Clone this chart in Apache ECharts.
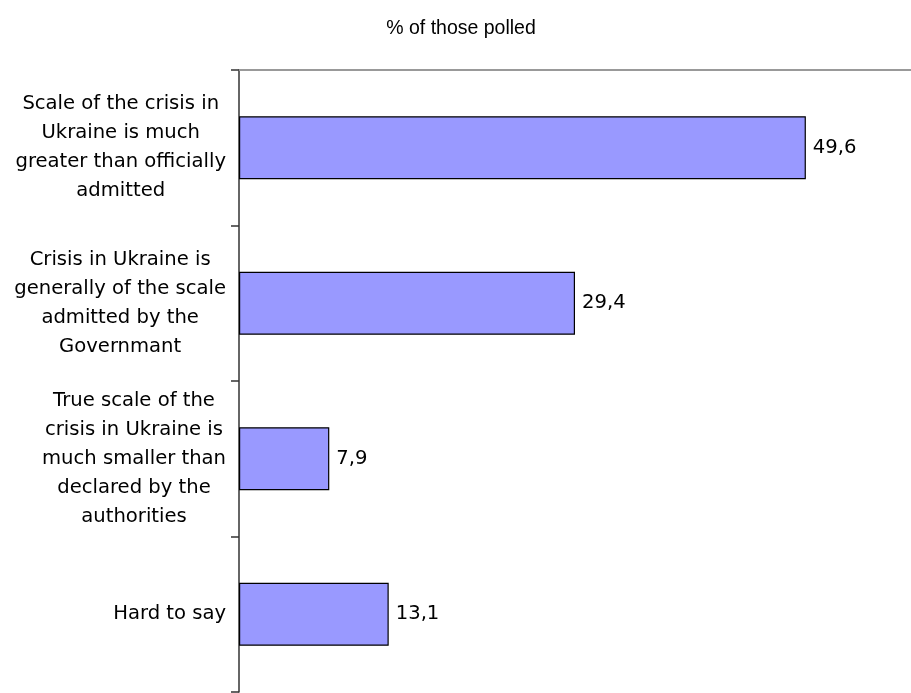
<!DOCTYPE html>
<html><head><meta charset="utf-8">
<script src="https://cdn.jsdelivr.net/npm/echarts@6/dist/echarts.min.js"></script>
<style>html,body{margin:0;padding:0;background:#fff}#c{width:911px;height:693px}</style>
</head><body><div id="c"></div>
<script>
const categories = [
  "Scale of the crisis in\nUkraine is much\ngreater than officially\nadmitted",
  "Crisis in Ukraine is\ngenerally of the scale\nadmitted by the\nGovernmant",
  "True scale of the\ncrisis in Ukraine is\nmuch smaller than\ndeclared by the\nauthorities",
  "Hard to say"
];
const values = [49.6, 29.4, 7.9, 13.1];
const titleText = "% of those polled";

const chart = echarts.init(document.getElementById('c'));
chart.setOption({
  animation: false,
  backgroundColor: '#fff',
  title: {
    text: titleText, left: 456, top: 14, textAlign: 'center',
    textStyle: { fontFamily: 'Liberation Sans', fontSize: 19.5, fontWeight: 'normal', color: '#000' }
  },
  grid: { left: 239, right: 0, top: 70, bottom: 1, containLabel: false },
  xAxis: {
    type: 'value', position: 'top', min: 0, max: 58.8,
    axisLine: { show: true, lineStyle: { color: '#999', width: 2 } },
    axisTick: { show: false }, axisLabel: { show: false }, splitLine: { show: false }
  },
  yAxis: {
    type: 'category', inverse: true, data: categories,
    axisLine: { show: true, lineStyle: { color: '#333', width: 1.5 } },
    axisTick: { show: true, length: 8, lineStyle: { color: '#333', width: 1.5 } },
    axisLabel: {
      margin: 13, align: 'right',
      formatter: v => v.split('\n').map(l => '{a|' + l + '}').join('\n'),
      rich: { a: { align: 'center', fontFamily: 'DejaVu Sans', fontSize: 19.6, lineHeight: 29, color: '#000' } }
    }
  },
  series: [{
    type: 'bar', data: values, barWidth: '40.5%',
    itemStyle: { color: '#9999FF', borderColor: '#000', borderWidth: 1.2 },
    label: {
      show: true, position: 'right', distance: 7,
      formatter: p => String(p.value).replace('.', ','),
      fontFamily: 'DejaVu Sans', fontSize: 19.6, color: '#000'
    }
  }]
});
</script></body></html>
